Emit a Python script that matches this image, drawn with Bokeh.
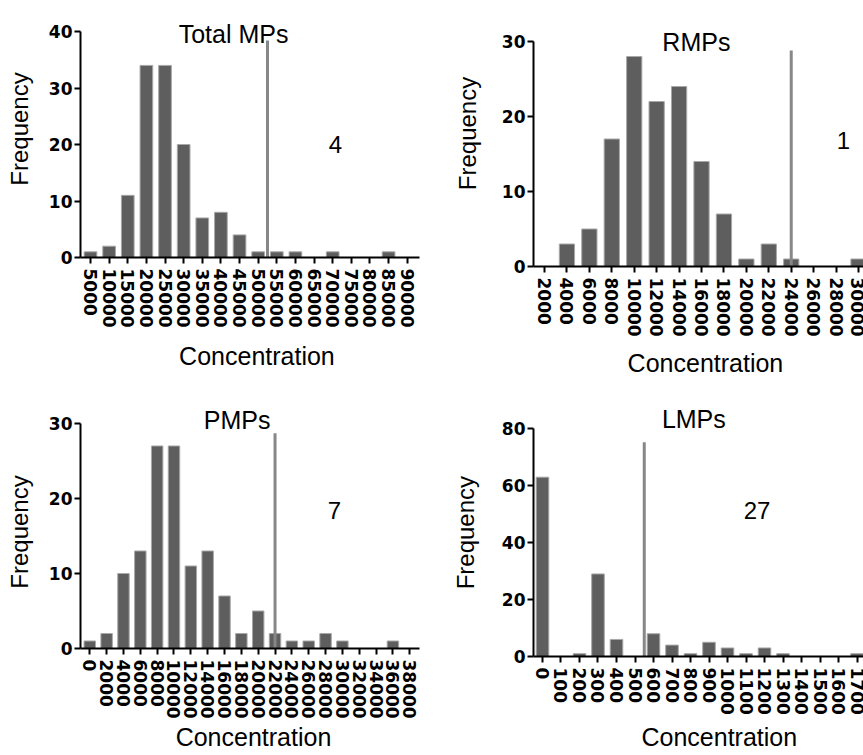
from bokeh.plotting import figure
from bokeh.layouts import column, row
from bokeh.models import FixedTicker, Label, Range1d, NumeralTickFormatter
from bokeh.embed import file_html
from bokeh.resources import INLINE

# ---------------- data ----------------
total_bins = [5000, 10000, 15000, 20000, 25000, 30000, 35000, 40000, 45000,
              50000, 55000, 60000, 65000, 70000, 75000, 80000, 85000, 90000]
total_freq = [1, 2, 11, 34, 34, 20, 7, 8, 4, 1, 1, 1, 0, 1, 0, 0, 1, 0]

rmp_bins = [2000, 4000, 6000, 8000, 10000, 12000, 14000, 16000, 18000,
            20000, 22000, 24000, 26000, 28000, 30000]
rmp_freq = [0, 3, 5, 17, 28, 22, 24, 14, 7, 1, 3, 1, 0, 0, 1]

pmp_bins = [0, 2000, 4000, 6000, 8000, 10000, 12000, 14000, 16000, 18000,
            20000, 22000, 24000, 26000, 28000, 30000, 32000, 34000, 36000, 38000]
pmp_freq = [1, 2, 10, 13, 27, 27, 11, 13, 7, 2, 5, 2, 1, 1, 2, 1, 0, 0, 1, 0]

lmp_bins = [0, 100, 200, 300, 400, 500, 600, 700, 800, 900, 1000, 1100,
            1200, 1300, 1400, 1500, 1600, 1700]
lmp_freq = [63, 0, 1, 29, 6, 0, 8, 4, 1, 5, 3, 1, 3, 1, 0, 0, 0, 1]

titles = ["Total MPs", "RMPs", "PMPs", "LMPs"]
cutoffs = [52500, 24000, 22000, 550]          # vertical reference line position
cutoff_tops = [38.4, 28.8, 28.7, 75.3]        # vertical reference line height
counts = ["4", "1", "7", "27"]                # counts above cutoff
y_ticks = [[0, 10, 20, 30, 40], [0, 10, 20, 30], [0, 10, 20, 30], [0, 20, 40, 60, 80]]
x_title = "Concentration"
y_title = "Frequency"

BAR = "#5e5e5e"
TXT_FONT = "Liberation Sans"
TICK_FONT = "DejaVu Sans"
NB = "\u00a0"


def text_label(x, y, text, size, baseline="alphabetic"):
    return Label(x=x, y=y, text=text, text_align="center", text_baseline=baseline,
                 text_font=TXT_FONT, text_font_size=size, text_color="black")


def panel(title, bins, freq, step, yticks, cutoff, ctop, count, count_xy, title_xy,
          xr, yend, width, height, borders, xstand, ystand, xpad, ypad):
    left, right, top, bottom = borders
    p = figure(width=width, height=height, output_backend="svg", toolbar_location=None,
               x_range=Range1d(*xr), y_range=Range1d(0, yend),
               min_border_left=left, min_border_right=right,
               min_border_top=top, min_border_bottom=bottom)
    p.outline_line_color = None
    p.xgrid.visible = False
    p.ygrid.visible = False
    p.background_fill_color = "white"
    p.border_fill_color = "white"

    p.vbar(x=bins, top=freq, width=0.68 * step, bottom=0,
           fill_color=BAR, line_color="#a8a8a8", line_width=1)
    p.segment(x0=[cutoff], y0=[0], x1=[cutoff], y1=[ctop],
              line_color="#878787", line_width=3)

    p.add_layout(text_label(title_xy[0], title_xy[1], title, "25px"))
    p.add_layout(text_label(count_xy[0], count_xy[1], count, "24px", baseline="middle"))

    for ax in (p.xaxis[0], p.yaxis[0]):
        ax.axis_line_width = 2
        ax.axis_line_color = "black"
        ax.major_tick_line_width = 2
        ax.major_tick_line_color = "black"
        ax.major_tick_out = 6
        ax.major_tick_in = 0
        ax.minor_tick_line_color = None
        ax.major_label_text_font = TICK_FONT
        ax.major_label_text_font_style = "bold"
        ax.major_label_text_font_size = "17px"
        ax.major_label_text_color = "black"
        ax.axis_label_text_font = TXT_FONT
        ax.axis_label_text_font_style = "normal"
        ax.axis_label_text_color = "black"

    xa = p.xaxis[0]
    xa.ticker = FixedTicker(ticks=bins)
    xa.formatter = NumeralTickFormatter(format="0")
    xa.major_label_orientation = "vertical"
    xa.major_label_standoff = 5
    xa.axis_label = NB * xpad + x_title
    xa.axis_label_text_font_size = "25px"
    xa.axis_label_standoff = xstand

    ya = p.yaxis[0]
    ya.ticker = FixedTicker(ticks=yticks)
    ya.bounds = (0, yticks[-1])
    ya.major_label_standoff = 2
    ya.axis_label = y_title + NB * ypad
    ya.axis_label_text_font_size = "24px"
    ya.axis_label_standoff = ystand
    return p


tl = panel(titles[0], total_bins, total_freq, 5000, y_ticks[0], cutoffs[0], cutoff_tops[0],
           counts[0], (70750, 20.0), (43400, 39.6), (2316, 93298), 45.49,
           438, 390, (80, 19, 0, 133), 11, 13, 2, 0)
tr = panel(titles[1], rmp_bins, rmp_freq, 2000, y_ticks[1], cutoffs[1], cutoff_tops[1],
           counts[1], (28660, 16.8), (15540, 30.0), (1019, 30444), 35.47,
           425, 390, (95, 0, 0, 124), 9, 18, 2, 0)
bl = panel(titles[2], pmp_bins, pmp_freq, 2000, y_ticks[2], cutoffs[2], cutoff_tops[2],
           counts[2], (29060, 18.4), (17500, 30.4), (-1104, 39157), 33.73,
           438, 365, (80, 19, 5, 107), 1, 13, 1, 3)
br = panel(titles[3], lmp_bins, lmp_freq, 100, y_ticks[3], cutoffs[3], cutoff_tops[3],
           counts[3], (1160, 51.3), (818, 83.5), (-48.6, 1735), 91.7,
           425, 365, (95, 0, 5, 99), 5, 20, 6, 2)

layout = row(column(tl, bl), column(tr, br))

open("out.html", "w").write(file_html(layout, INLINE))
